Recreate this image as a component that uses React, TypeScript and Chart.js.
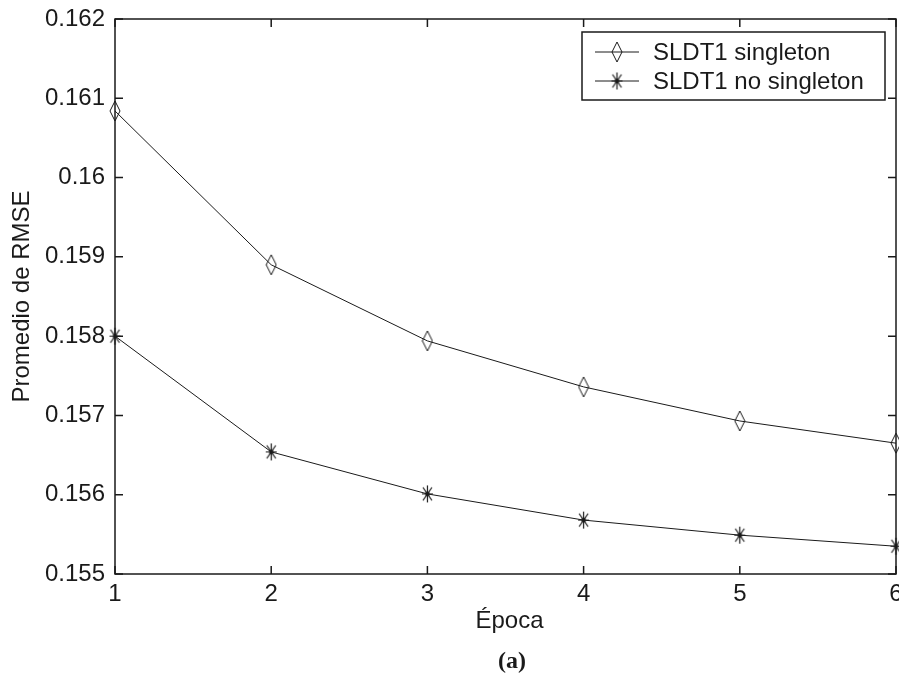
import React, { useEffect, useRef } from "react";
import { Chart, registerables } from "chart.js";

Chart.register(...registerables);

const epochs = [1, 2, 3, 4, 5, 6];
const singleton = [0.16084, 0.1589, 0.15794, 0.15736, 0.15693, 0.15665];
const noSingleton = [0.158, 0.15654, 0.15601, 0.15568, 0.15549, 0.15535];
const seriesNames = ["SLDT1 singleton", "SLDT1 no singleton"];
const xTitle = "Época";
const yTitle = "Promedio de RMSE";
const caption = "(a)";

const FONT = "'Liberation Sans', Arial, sans-serif";
const INK = "#1a1a1a";

function makeDiamond(): HTMLCanvasElement {
  const c = document.createElement("canvas");
  c.width = 12;
  c.height = 22;
  const ctx = c.getContext("2d")!;
  ctx.strokeStyle = INK;
  ctx.lineWidth = 1;
  ctx.beginPath();
  ctx.moveTo(6, 1);
  ctx.lineTo(11, 11);
  ctx.lineTo(6, 21);
  ctx.lineTo(1, 11);
  ctx.closePath();
  ctx.stroke();
  return c;
}

function makeStar(): HTMLCanvasElement {
  const c = document.createElement("canvas");
  c.width = 13;
  c.height = 19;
  const ctx = c.getContext("2d")!;
  ctx.strokeStyle = INK;
  ctx.lineWidth = 1.2;
  ctx.beginPath();
  ctx.moveTo(6.5, 1);
  ctx.lineTo(6.5, 18);
  ctx.moveTo(1, 9.5);
  ctx.lineTo(12, 9.5);
  ctx.moveTo(2, 3);
  ctx.lineTo(11, 16);
  ctx.moveTo(11, 3);
  ctx.lineTo(2, 16);
  ctx.stroke();
  ctx.fillStyle = INK;
  ctx.fillRect(4.5, 7.5, 4, 4);
  return c;
}

export default function App() {
  const ref = useRef<HTMLCanvasElement | null>(null);

  useEffect(() => {
    if (!ref.current) return;
    const diamond = makeDiamond();
    const star = makeStar();
    const markers = [diamond, star];

    const framePlugin = {
      id: "matlabFrame",
      afterDatasetsDraw(chart: any) {
        const { ctx, chartArea: a, scales } = chart;
        ctx.save();
        ctx.strokeStyle = INK;
        ctx.lineWidth = 1.5;
        ctx.strokeRect(a.left, a.top, a.right - a.left, a.bottom - a.top);
        ctx.lineWidth = 1.5;
        ctx.beginPath();
        const tl = 8;
        scales.x.ticks.forEach((t: any) => {
          const px = scales.x.getPixelForValue(t.value);
          ctx.moveTo(px, a.bottom);
          ctx.lineTo(px, a.bottom - tl);
          ctx.moveTo(px, a.top);
          ctx.lineTo(px, a.top + tl);
        });
        scales.y.ticks.forEach((t: any) => {
          const py = scales.y.getPixelForValue(t.value);
          ctx.moveTo(a.left, py);
          ctx.lineTo(a.left + tl, py);
          ctx.moveTo(a.right, py);
          ctx.lineTo(a.right - tl, py);
        });
        ctx.stroke();

        // legend
        const lx = 582, ly = 32, lw = 303, lh = 68;
        ctx.fillStyle = "#ffffff";
        ctx.fillRect(lx, ly, lw, lh);
        ctx.lineWidth = 1.5;
        ctx.strokeRect(lx, ly, lw, lh);
        const rows = [52, 81];
        ctx.font = `24px ${FONT}`;
        ctx.textBaseline = "middle";
        ctx.textAlign = "left";
        rows.forEach((ry, i) => {
          ctx.lineWidth = 1;
          ctx.strokeStyle = INK;
          ctx.beginPath();
          ctx.moveTo(595, ry);
          ctx.lineTo(639, ry);
          ctx.stroke();
          const m = markers[i];
          ctx.drawImage(m, 617 - m.width / 2, ry - m.height / 2);
          ctx.fillStyle = INK;
          ctx.fillText(seriesNames[i], 653, ry + 1);
        });

        // titles
        ctx.fillStyle = INK;
        ctx.textAlign = "center";
        ctx.font = `24px ${FONT}`;
        ctx.fillText(xTitle, (a.left + a.right) / 2 + 4, 621);
        ctx.save();
        ctx.translate(22, (a.top + a.bottom) / 2);
        ctx.rotate(-Math.PI / 2);
        ctx.fillText(yTitle, 0, 0);
        ctx.restore();
        ctx.font = `bold 24px 'Liberation Serif', 'Times New Roman', serif`;
        ctx.fillText(caption, 512, 662);
        ctx.restore();
      },
    };

    const chart = new Chart(ref.current, {
      type: "line",
      data: {
        datasets: [
          {
            label: seriesNames[0],
            data: epochs.map((x, i) => ({ x, y: singleton[i] })),
            borderColor: INK,
            borderWidth: 1,
            pointStyle: diamond as any,
            pointRadius: 6,
            clip: false as any,
          },
          {
            label: seriesNames[1],
            data: epochs.map((x, i) => ({ x, y: noSingleton[i] })),
            borderColor: INK,
            borderWidth: 1,
            pointStyle: star as any,
            pointRadius: 6,
            clip: false as any,
          },
        ],
      },
      options: {
        animation: false,
        responsive: false,
        events: [],
        layout: { autoPadding: false, padding: { top: 19, right: 3, left: 0, bottom: 0 } },
        plugins: { legend: { display: false }, tooltip: { enabled: false } },
        scales: {
          x: {
            type: "linear",
            min: 1,
            max: 6,
            ticks: {
              stepSize: 1,
              padding: 6,
              color: INK,
              font: { family: FONT, size: 24 },
              maxRotation: 0,
            },
            grid: { display: false, drawTicks: false },
            border: { display: false },
            afterFit(s: any) {
              s.height = 105;
              s.paddingLeft = 0;
              s.paddingRight = 0;
            },
          },
          y: {
            type: "linear",
            min: 0.155,
            max: 0.162,
            ticks: {
              stepSize: 0.001,
              padding: 10,
              color: INK,
              font: { family: FONT, size: 24 },
              callback: (v: any) => String(Number(Number(v).toFixed(3))),
            },
            grid: { display: false, drawTicks: false },
            border: { display: false },
            afterFit(s: any) {
              s.width = 115;
              s.paddingTop = 0;
              s.paddingBottom = 0;
            },
          },
        },
      },
      plugins: [framePlugin],
    });
    return () => chart.destroy();
  }, []);

  return (
    <div style={{ position: "absolute", left: 0, top: 0, width: 899, height: 679, background: "#fff" }}>
      <canvas ref={ref} width={899} height={679} />
    </div>
  );
}
